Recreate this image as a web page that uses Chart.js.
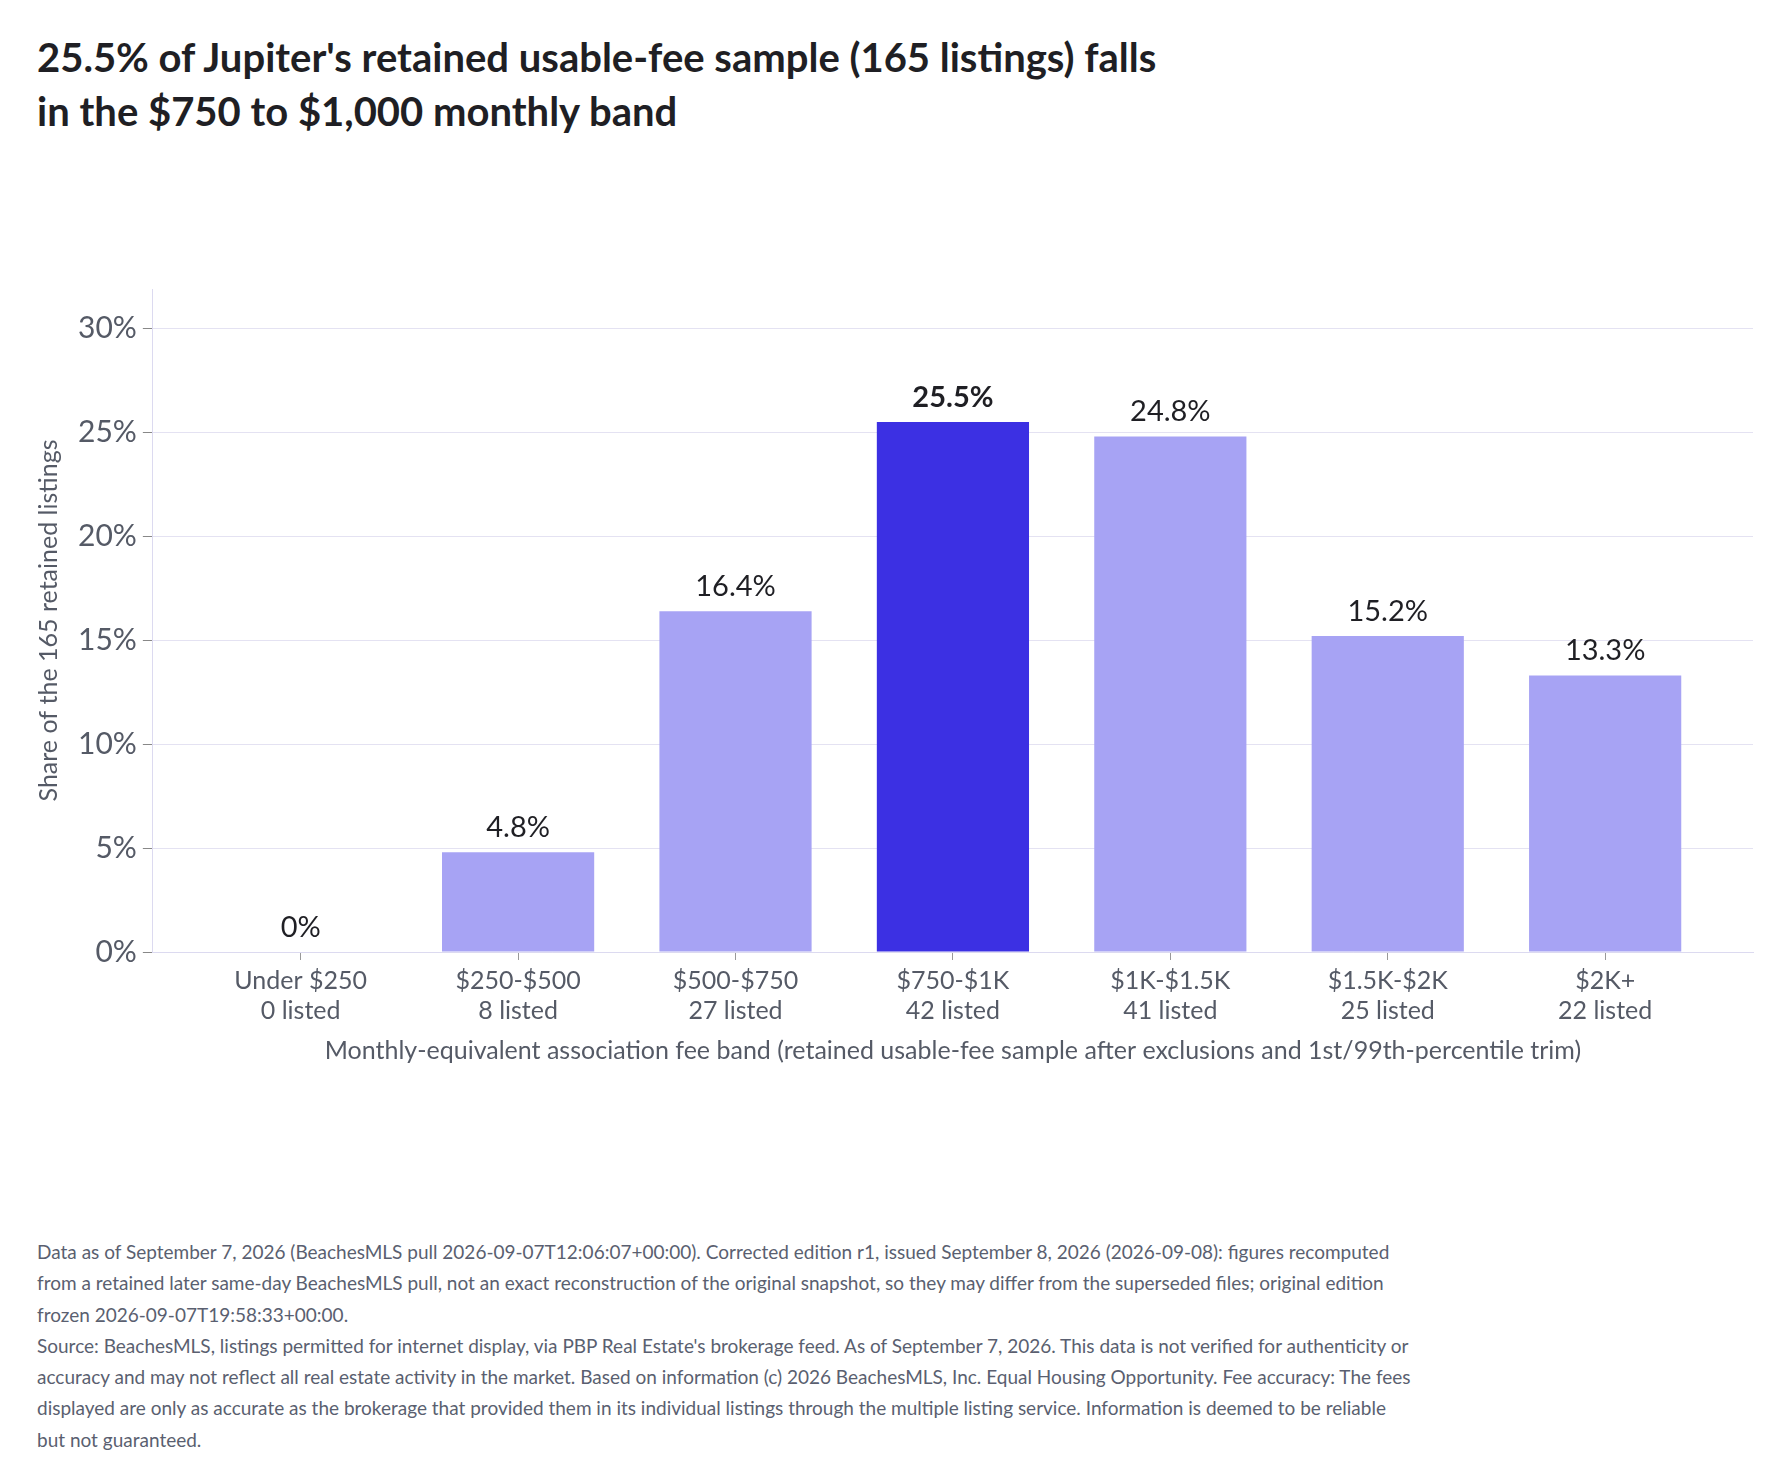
<!DOCTYPE html>
<html><head><meta charset="utf-8">
<script src="https://cdn.jsdelivr.net/npm/chart.js@4"></script>
<style>
body{margin:0;width:1782px;height:1477px;background:#fff;font-family:Lato,sans-serif;position:relative;overflow:hidden}
#title{position:absolute;left:37px;top:30px;font-size:40px;font-weight:700;color:#1f1f24;line-height:54px}
#wrap{position:absolute;left:30px;top:265px;width:1735px;height:805px}
#foot{position:absolute;left:37px;top:1236px;width:1380px;font-size:19px;line-height:31.3px;color:#5a5f70}
</style></head><body>
<div id="title">25.5% of Jupiter's retained usable-fee sample (165 listings) falls<br>in the $750 to $1,000 monthly band</div>
<div id="wrap"><canvas id="c"></canvas></div>
<div id="foot">Data as of September 7, 2026 (BeachesMLS pull 2026-09-07T12:06:07+00:00). Corrected edition r1, issued September 8, 2026 (2026-09-08): figures recomputed from a retained later same-day BeachesMLS pull, not an exact reconstruction of the original snapshot, so they may differ from the superseded files; original edition frozen 2026-09-07T19:58:33+00:00.<br>Source: BeachesMLS, listings permitted for internet display, via PBP Real Estate's brokerage feed. As of September 7, 2026. This data is not verified for authenticity or accuracy and may not reflect all real estate activity in the market. Based on information (c) 2026 BeachesMLS, Inc. Equal Housing Opportunity. Fee accuracy: The fees displayed are only as accurate as the brokerage that provided them in its individual listings through the multiple listing service. Information is deemed to be reliable but not guaranteed.</div>
<script>
const categories=["Under $250","$250-$500","$500-$750","$750-$1K","$1K-$1.5K","$1.5K-$2K","$2K+"];
const counts=[0,8,27,42,41,25,22];
const shares=[0,4.8,16.4,25.5,24.8,15.2,13.3];
const shareLabels=["0%","4.8%","16.4%","25.5%","24.8%","15.2%","13.3%"];
const highlight=3;
const yTicks=[0,5,10,15,20,25,30];
const pts=shares.map((v,i)=>({x:i,y:v}));
const labelPlugin={id:'lbl',afterDatasetsDraw(ch){
 const ctx=ch.ctx,meta=ch.getDatasetMeta(0);
 ctx.save();ctx.textAlign='center';ctx.textBaseline='bottom';
 meta.data.forEach((b,i)=>{
  ctx.font=(i===highlight?'700 ':'400 ')+'29px Lato';ctx.fillStyle='#1f1f24';
  ctx.fillText(shareLabels[i],b.x,b.y-10);
 });ctx.restore();}};
new Chart(document.getElementById('c'),{type:'bar',
 data:{datasets:[{data:pts,backgroundColor:shares.map((v,i)=>i===highlight?'#3c30e3':'#a7a3f4'),barPercentage:0.7,categoryPercentage:1}]},
 options:{responsive:true,maintainAspectRatio:false,animation:false,
  layout:{padding:{right:12,top:0}},
  plugins:{legend:{display:false},tooltip:{enabled:false}},
  scales:{
   x:{type:'linear',min:-0.68,max:6.68,offset:false,
     afterBuildTicks(a){a.ticks=categories.map((c,i)=>({value:i}));},
     ticks:{autoSkip:false,color:'#555a66',font:{size:25,family:'Lato'},padding:6,callback:(v)=>[categories[v],counts[v]+' listed']},
     grid:{display:true,offset:false,drawOnChartArea:false,tickLength:8,color:'#999'},
     border:{color:'#dcdaf0'},
     title:{display:true,text:'Monthly-equivalent association fee band (retained usable-fee sample after exclusions and 1st/99th-percentile trim)',color:'#555a66',font:{size:25,family:'Lato'},padding:{top:4}}},
   y:{min:0,max:31.9,
     afterBuildTicks(a){a.ticks=yTicks.map(v=>({value:v}));},
     ticks:{color:'#555a66',font:{size:30,family:'Lato'},padding:6,callback:v=>v+'%'},
     grid:{color:'#e4e2f2',tickLength:10,tickColor:'#888'},
     border:{color:'#dcdaf0'},
     title:{display:true,text:'Share of the 165 retained listings',color:'#555a66',font:{size:25,family:'Lato'},padding:{bottom:8}}}
  }},plugins:[labelPlugin]});
</script></body></html>
